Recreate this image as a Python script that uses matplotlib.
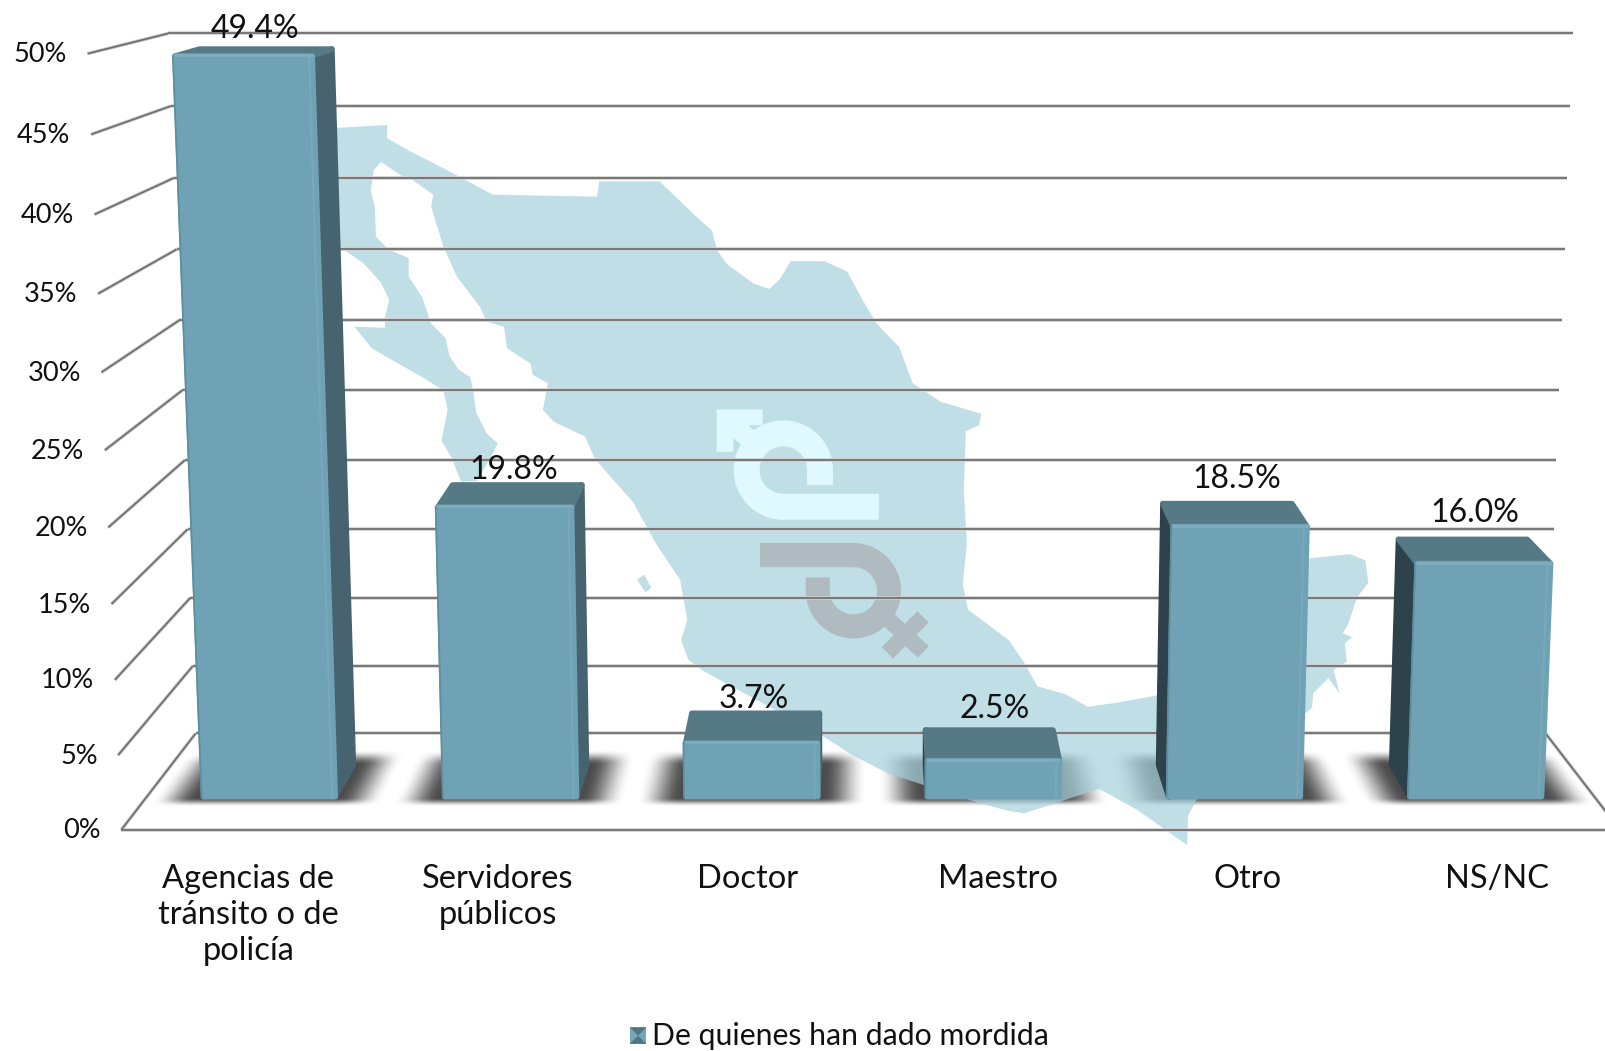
import numpy as np
import matplotlib
matplotlib.use('Agg')
import matplotlib.pyplot as plt
from matplotlib.patches import Polygon

plt.rcParams['font.family'] = ['Lato', 'DejaVu Sans']

categories = ['Agencias de\ntránsito o de\npolicía', 'Servidores\npúblicos', 'Doctor',
              'Maestro', 'Otro', 'NS/NC']
values = [49.4, 19.8, 3.7, 2.5, 18.5, 16.0]
value_labels = ['49.4%', '19.8%', '3.7%', '2.5%', '18.5%', '16.0%']
ticks = [0, 5, 10, 15, 20, 25, 30, 35, 40, 45, 50]
legend_label = 'De quienes han dado mordida'

# label shifts from the front top centre of each bar
label_shift_x = [13, 11, 4, 3, -1, -7]
label_shift_y = [-26, -36, -43, -50, -46, -49]

# outline of the map in the background
map_outline = [
    (325, 125), (378, 122), (378, 135), (401, 148), (440, 168), (481, 190), (583, 192), (585, 177),
    (644, 177), (676, 208), (695, 225), (700, 244), (710, 258), (736, 277), (751, 282), (761, 273),
    (772, 255), (805, 255), (827, 265), (844, 296), (856, 316), (878, 339), (891, 374), (918, 392),
    (958, 404), (956, 415), (943, 421), (941, 480), (944, 530), (940, 570), (945, 595), (965, 610),
    (985, 625), (1000, 647), (1013, 670), (1041, 678), (1062, 690), (1090, 686), (1129, 679),
    (1200, 600), (1279, 545), (1318, 541), (1333, 547), (1336, 569), (1325, 583), (1316, 610),
    (1311, 618), (1320, 622), (1313, 628), (1315, 646), (1302, 654), (1308, 677), (1297, 662),
    (1282, 677), (1281, 691), (1270, 700), (1168, 781), (1160, 796), (1159, 825), (1152, 820),
    (1111, 791), (1073, 770), (1000, 794), (982, 791), (947, 781), (867, 755), (832, 737),
    (804, 719), (685, 654), (672, 644), (665, 625), (671, 605), (664, 566), (640, 530), (618, 490),
    (600, 470), (581, 448), (571, 426), (541, 412), (530, 400), (535, 374), (520, 366), (518, 355),
    (495, 340), (492, 319), (475, 314), (469, 300), (446, 270), (433, 241), (421, 202), (423, 190),
    (403, 176), (391, 171), (372, 158), (365, 166), (362, 186), (366, 202), (367, 231), (380, 244),
    (399, 252), (399, 270), (412, 290), (421, 316), (435, 330), (439, 348), (448, 361), (459, 368),
    (462, 381), (465, 403), (475, 423), (486, 433), (479, 447), (465, 470), (450, 470), (441, 447),
    (431, 430), (437, 400), (433, 381), (412, 368), (389, 355), (363, 340), (346, 319), (376, 320),
    (376, 309), (380, 293), (372, 276), (355, 257), (336, 244), (325, 240),
]
map_island = [(622, 566), (629, 561), (636, 574), (630, 578)]
male_arrow = [(699.7, 399.7), (744.6, 399.7), (744.6, 415), (730.6, 415), (737.2, 421.5),
              (724.1, 434.5), (716, 428), (716, 441), (699.7, 441)]

# perspective of the chart, in the coordinates of the 1568 wide canvas
CENTER_X = 850
FLOOR_Y = 810
AXIS_MAX = 50
SLOPE_H = -0.0432
SLOPE_D = 0.1099
VANISH_H = 17590
VANISH_D = -139
HALF_W = 731.5
BAR_W = 133
BAR_SHIFT = 2
Z_FRONT = 0.32
Z_BACK = 0.65

FRONT = '#6FA2B4'
TOP = '#557985'
RIGHT = '#47636F'
LEFT = '#2D424A'
GRID = '#707070'


def project(x, value, z):
    t = value / AXIS_MAX
    w = 1 + SLOPE_H * t + SLOPE_D * z
    return (CENTER_X + x / w,
            (FLOOR_Y + SLOPE_H * t * VANISH_H + SLOPE_D * z * VANISH_D) / w)


def smooth(d, blur):
    a = np.clip(d / blur, 0, 1)
    return a * a * (3 - 2 * a)


def grid_line(ax, p0, p1):
    xs = [p0[0], p1[0]]
    ys = [p0[1], p1[1]]
    ax.plot(xs, ys, color='#CFCFCF', lw=2.6, zorder=3, solid_capstyle='butt')
    ax.plot(xs, ys, color=GRID, lw=1.3, zorder=3.1, solid_capstyle='butt')


def draw_bar(ax, x0, x1, value):
    p = lambda x, v, z: project(x, v, z)
    # top and side faces first, the front goes over them
    top = [p(x0, value, Z_FRONT), p(x1, value, Z_FRONT), p(x1, value, Z_BACK), p(x0, value, Z_BACK)]
    if x1 < 0:
        side = [p(x1, 0, Z_FRONT), p(x1, value, Z_FRONT), p(x1, value, Z_BACK), p(x1, 0, Z_BACK)]
        side_col = RIGHT
    else:
        side = [p(x0, 0, Z_FRONT), p(x0, value, Z_FRONT), p(x0, value, Z_BACK), p(x0, 0, Z_BACK)]
        side_col = LEFT
    front = [p(x0, 0, Z_FRONT), p(x1, 0, Z_FRONT), p(x1, value, Z_FRONT), p(x0, value, Z_FRONT)]
    for pts, col in ((side, side_col), (top, TOP), (front, FRONT)):
        ax.add_patch(Polygon(pts, closed=True, facecolor=col, edgecolor=col, lw=4,
                             joinstyle='round', zorder=5))

    # bevel along the edges of the front
    (bl, br, tr, tl) = front
    ax.plot([tl[0], tr[0]], [tl[1] - 1, tr[1] - 1], color='#7DAEC0', lw=2.0, zorder=5.2, solid_capstyle='round')
    ax.plot([bl[0] - 2, tl[0] - 2], [bl[1], tl[1]], color='#5E8FA1', lw=1.3, zorder=5.2)
    ax.plot([br[0] - 3, tr[0] - 3], [br[1], tr[1]], color='#78A8B9', lw=1.6, zorder=5.2)


fig = plt.figure(figsize=(16.06, 10.51), dpi=100)
ax = fig.add_axes([0, 0, 1, 1])
ax.axis('off')

# soft shadows on the floor
n = len(categories)
slot = 2 * HALF_W / n
centers = [-HALF_W + slot * (i + 0.5) for i in range(n)]
(px, py) = np.meshgrid(np.arange(1568) + 0.5, np.arange(1026) + 0.5)
depth = (FLOOR_Y - py) / (py - VANISH_D) / SLOPE_D
floor_x = (px - CENTER_X) * (1 + SLOPE_D * depth)
shade = np.zeros(px.shape)
for c in centers:
    ex = smooth(floor_x - (c + BAR_SHIFT - BAR_W / 2 - 50), 45) * smooth((c + BAR_SHIFT + BAR_W / 2 + 50) - floor_x, 45)
    ez = smooth(depth - 0.22, 0.09) * smooth(0.82 - depth, 0.17)
    shade = np.maximum(shade, ex * ez)
shadow = np.zeros(px.shape + (4,))
shadow[..., :3] = 0.22
shadow[..., 3] = shade * 0.9
ax.imshow(shadow, extent=(0, 1568, 1026, 0), aspect='auto', zorder=0.5)

# map and the two symbols on it
ax.add_patch(Polygon(map_outline, closed=True, facecolor='#A6D0DB', edgecolor='none', alpha=0.7, zorder=1))
ax.add_patch(Polygon(map_island, closed=True, facecolor='#A6D0DB', edgecolor='none', alpha=0.7, zorder=1))

a = np.radians(np.linspace(90, 360, 80))
male_x = np.r_[858, 764.8, 764.8 + 35.8 * np.cos(a), 800.6]
male_y = np.r_[494.7, 494.7, 458.9 + 35.8 * np.sin(a), 473.6]
ax.plot(male_x, male_y, color='#DFF9FF', lw=18.7, solid_capstyle='butt', solid_joinstyle='round', zorder=2)
ax.add_patch(Polygon(male_arrow, closed=True, facecolor='#DFF9FF', edgecolor='none', zorder=2))

a = np.radians(np.linspace(-90, 180, 80))
fem_x = np.r_[742, 833.2, 833.2 + 34.8 * np.cos(a), 798.4]
fem_y = np.r_[541.9, 541.9, 576.7 + 34.8 * np.sin(a), 563.7]
ax.plot(fem_x, fem_y, color='#AFBBC1', lw=17.3, solid_capstyle='butt', solid_joinstyle='round', zorder=2)
ax.plot([866.4, 901.2], [637.2, 602.1], color='#AFBBC1', lw=11.5, solid_capstyle='butt', zorder=2)
ax.plot([859, 901.5], [597, 636.3], color='#AFBBC1', lw=11.5, solid_capstyle='butt', zorder=2)

# walls and floor
for t in ticks:
    grid_line(ax, project(-HALF_W, t, 0), project(-HALF_W, t, 1))
    grid_line(ax, project(-HALF_W, t, 1), project(HALF_W, t, 1))
    (tx, ty) = project(-HALF_W, t, 0)
    ax.text(tx - 20, ty + 1, '%d%%' % t, ha='right', va='center', fontsize=19.5, color='#111111', zorder=6)
grid_line(ax, project(-HALF_W, 0, 0), project(HALF_W, 0, 0))
grid_line(ax, project(HALF_W, 0, 1), project(HALF_W, 0, 0))

# bars and their labels
for (i, c) in enumerate(centers):
    draw_bar(ax, c + BAR_SHIFT - BAR_W / 2, c + BAR_SHIFT + BAR_W / 2, values[i])
    (lx, ly) = project(c, values[i], Z_FRONT)
    ax.text(lx + label_shift_x[i], ly + label_shift_y[i], value_labels[i], ha='center', va='center',
            fontsize=23, color='#111111', zorder=6)
    (cx, cy) = project(c, 0, 0)
    ax.text(cx + 2, 843, categories[i], ha='center', va='top', fontsize=23.5, color='#111111',
            linespacing=1.26, zorder=6)

# legend
ax.add_patch(Polygon([(615, 1003), (631, 1003), (631, 1019), (615, 1019)], closed=True,
                     facecolor='#76A6B8', edgecolor='none', zorder=6))
ax.add_patch(Polygon([(615, 1003), (631, 1003), (623, 1011)], closed=True, facecolor='#4F7685',
                     edgecolor='none', zorder=6.1))
ax.add_patch(Polygon([(615, 1019), (631, 1019), (623, 1011)], closed=True, facecolor='#4F7685',
                     edgecolor='none', zorder=6.1))
ax.text(637, 1011, legend_label, ha='left', va='center', fontsize=21.8, color='#111111', zorder=6)

ax.set_xlim(0, 1568)
ax.set_ylim(1026, 0)
fig.savefig('out.png', dpi=100, facecolor='white')
